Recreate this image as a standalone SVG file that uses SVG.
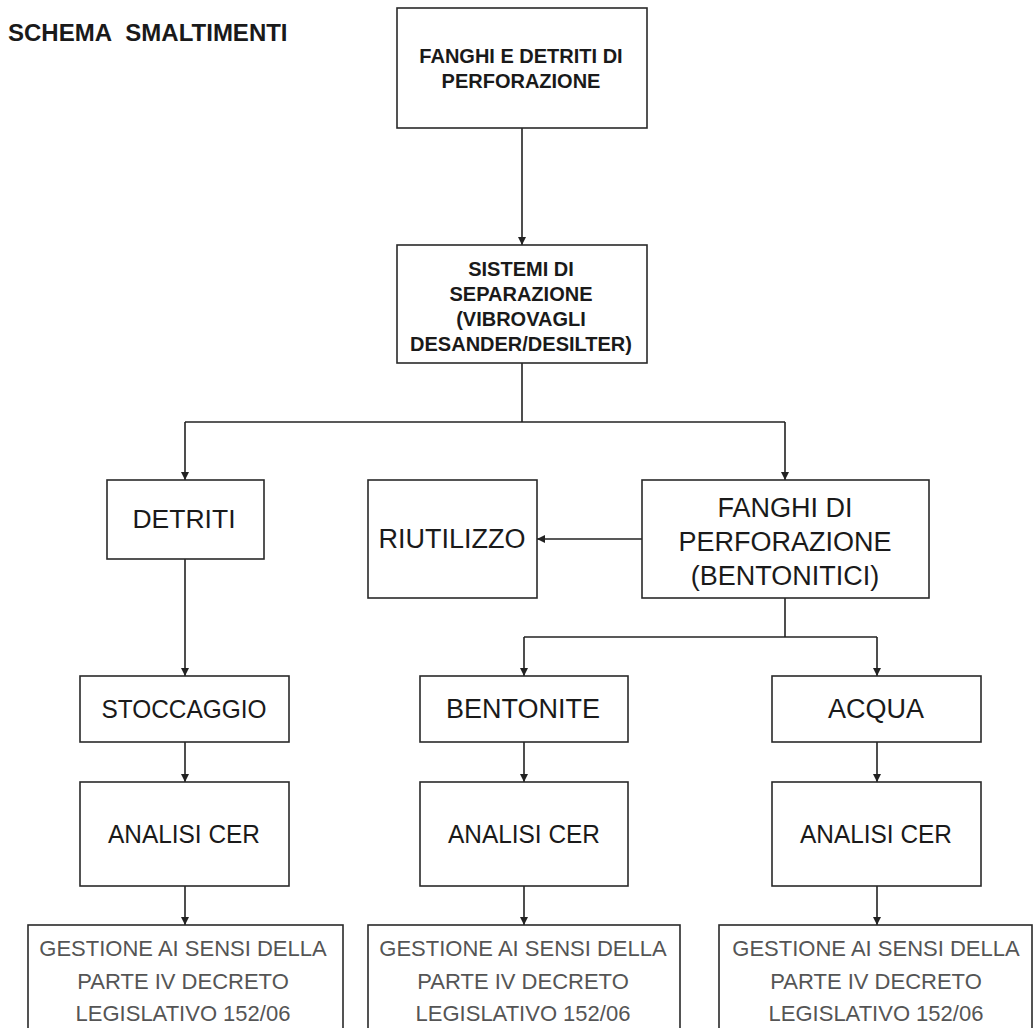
<svg xmlns="http://www.w3.org/2000/svg" width="1035" height="1028" viewBox="0 0 1035 1028">
  <style>
    .box { fill: #ffffff; stroke: #2a2a2a; stroke-width: 1.6; }
    .conn { fill: none; stroke: #222222; stroke-width: 1.6; }
    .t { font-family: "Liberation Sans", Arial, sans-serif; fill: #1a1a1a; text-anchor: middle; }
    .b { font-weight: bold; font-size: 20px; }
    .r27 { font-size: 27px; }
    .g { font-size: 22px; fill: #555555; }
  </style>
  <defs>
    <marker id="arr" viewBox="0 0 10 10" refX="10" refY="5" markerWidth="9" markerHeight="8" markerUnits="userSpaceOnUse" orient="auto">
      <path d="M0,0 L10,5 L0,10 z" fill="#222222"/>
    </marker>
  </defs>
  <rect width="1035" height="1028" fill="#ffffff"/>

  <text x="8" y="41" font-family="Liberation Sans, Arial, sans-serif" font-weight="bold" font-size="24" fill="#1a1a1a">SCHEMA&#160;&#160;SMALTIMENTI</text>

  <g id="connectors">
    <line class="conn" x1="522" y1="128" x2="522" y2="245" marker-end="url(#arr)"/>
    <polyline class="conn" points="522,363 522,422"/>
    <polyline class="conn" points="185,422 785,422"/>
    <line class="conn" x1="185" y1="422" x2="185" y2="480" marker-end="url(#arr)"/>
    <line class="conn" x1="785" y1="422" x2="785" y2="480" marker-end="url(#arr)"/>
    <line class="conn" x1="642" y1="539" x2="537" y2="539" marker-end="url(#arr)"/>
    <line class="conn" x1="185" y1="559" x2="185" y2="676" marker-end="url(#arr)"/>
    <polyline class="conn" points="785,598 785,637"/>
    <polyline class="conn" points="524,637 877,637"/>
    <line class="conn" x1="524" y1="637" x2="524" y2="676" marker-end="url(#arr)"/>
    <line class="conn" x1="877" y1="637" x2="877" y2="676" marker-end="url(#arr)"/>
    <line class="conn" x1="185" y1="742" x2="185" y2="782" marker-end="url(#arr)"/>
    <line class="conn" x1="524" y1="742" x2="524" y2="782" marker-end="url(#arr)"/>
    <line class="conn" x1="877" y1="742" x2="877" y2="782" marker-end="url(#arr)"/>
    <line class="conn" x1="185" y1="886" x2="185" y2="925" marker-end="url(#arr)"/>
    <line class="conn" x1="524" y1="886" x2="524" y2="925" marker-end="url(#arr)"/>
    <line class="conn" x1="877" y1="886" x2="877" y2="925" marker-end="url(#arr)"/>
  </g>

  <g id="fanghi-detriti">
    <rect class="box" x="397" y="8" width="250" height="120"/>
    <text class="t b" x="521" y="63">FANGHI E DETRITI DI</text>
    <text class="t b" x="521" y="88">PERFORAZIONE</text>
  </g>

  <g id="sistemi">
    <rect class="box" x="397" y="245" width="250" height="118"/>
    <text class="t b" x="521" y="276">SISTEMI DI</text>
    <text class="t b" x="521" y="301">SEPARAZIONE</text>
    <text class="t b" x="521" y="326">(VIBROVAGLI</text>
    <text class="t b" x="521" y="351">DESANDER/DESILTER)</text>
  </g>

  <g id="detriti">
    <rect class="box" x="107" y="480" width="157" height="79"/>
    <text class="t" x="184" y="528" font-size="26.5">DETRITI</text>
  </g>

  <g id="riutilizzo">
    <rect class="box" x="368" y="480" width="169" height="118"/>
    <text class="t r27" x="452" y="548">RIUTILIZZO</text>
  </g>

  <g id="fanghi-perforazione">
    <rect class="box" x="642" y="480" width="287" height="118"/>
    <text class="t r27" x="785" y="517">FANGHI DI</text>
    <text class="t r27" x="785" y="551">PERFORAZIONE</text>
    <text class="t r27" x="785" y="585">(BENTONITICI)</text>
  </g>

  <g id="stoccaggio">
    <rect class="box" x="80" y="676" width="209" height="66"/>
    <text class="t" x="184" y="718" font-size="25" textLength="165" lengthAdjust="spacingAndGlyphs">STOCCAGGIO</text>
  </g>

  <g id="bentonite">
    <rect class="box" x="420" y="676" width="208" height="66"/>
    <text class="t r27" x="523" y="718">BENTONITE</text>
  </g>

  <g id="acqua">
    <rect class="box" x="772" y="676" width="209" height="66"/>
    <text class="t r27" x="876" y="718">ACQUA</text>
  </g>

  <g id="analisi-1">
    <rect class="box" x="80" y="782" width="209" height="104"/>
    <text class="t" x="184" y="843" font-size="26" textLength="152" lengthAdjust="spacingAndGlyphs">ANALISI CER</text>
  </g>

  <g id="analisi-2">
    <rect class="box" x="420" y="782" width="208" height="104"/>
    <text class="t" x="524" y="843" font-size="26" textLength="152" lengthAdjust="spacingAndGlyphs">ANALISI CER</text>
  </g>

  <g id="analisi-3">
    <rect class="box" x="772" y="782" width="209" height="104"/>
    <text class="t" x="876" y="843" font-size="26" textLength="152" lengthAdjust="spacingAndGlyphs">ANALISI CER</text>
  </g>

  <g id="gestione-1">
    <rect class="box" x="28" y="925" width="315" height="120"/>
    <text class="t g" x="183" y="956">GESTIONE AI SENSI DELLA</text>
    <text class="t g" x="183" y="989">PARTE IV DECRETO</text>
    <text class="t g" x="183" y="1021">LEGISLATIVO 152/06</text>
  </g>

  <g id="gestione-2">
    <rect class="box" x="368" y="925" width="312" height="120"/>
    <text class="t g" x="523" y="956">GESTIONE AI SENSI DELLA</text>
    <text class="t g" x="523" y="989">PARTE IV DECRETO</text>
    <text class="t g" x="523" y="1021">LEGISLATIVO 152/06</text>
  </g>

  <g id="gestione-3">
    <rect class="box" x="719" y="925" width="313" height="120"/>
    <text class="t g" x="876" y="956">GESTIONE AI SENSI DELLA</text>
    <text class="t g" x="876" y="989">PARTE IV DECRETO</text>
    <text class="t g" x="876" y="1021">LEGISLATIVO 152/06</text>
  </g>
</svg>
